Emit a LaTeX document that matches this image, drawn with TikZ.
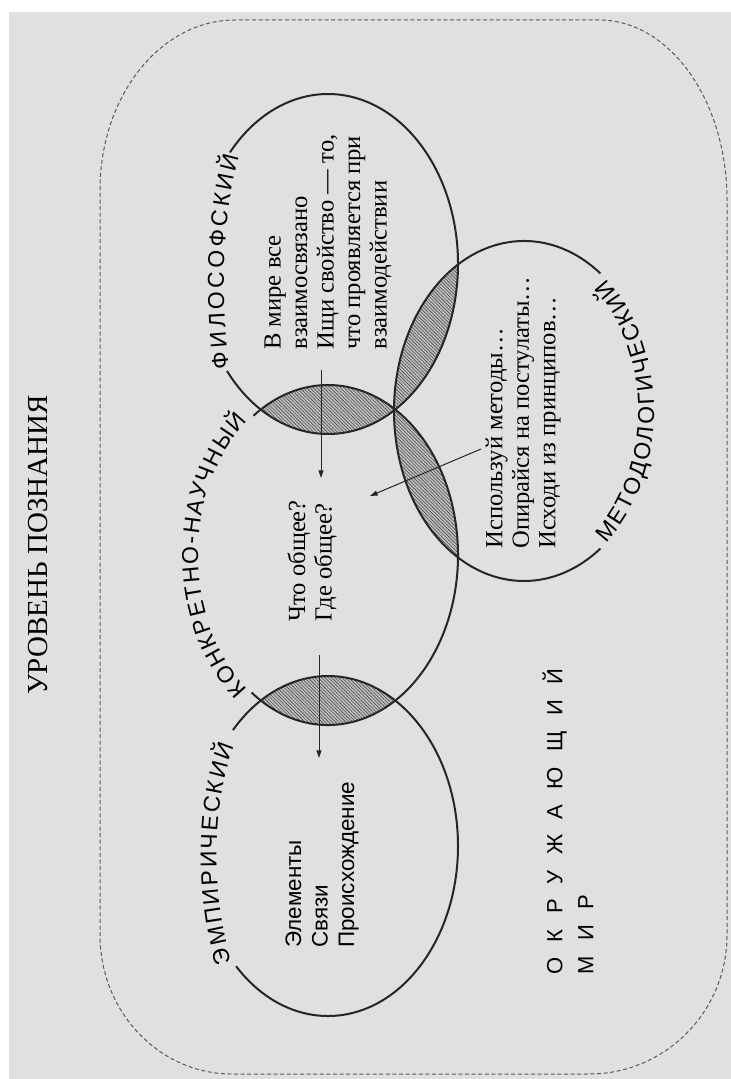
\documentclass[tikz,border=0pt]{standalone}
\usepackage{fontspec}
\setmainfont{Liberation Serif}
\setsansfont{Liberation Sans}
\usepackage{tikz}
\usetikzlibrary{arrows.meta}
\usetikzlibrary{decorations.text,patterns.meta}

\definecolor{paper}{gray}{0.88}
\newcommand\lvlfont{\sffamily\fontsize{11.5}{12}\selectfont}
\tikzset{
	ring/.style={black!85,line width=1pt},
	lens/.style={fill=black!25,postaction={pattern={Lines[angle=-45,distance=1.2pt,line width=0.3pt]},pattern color=black!70}},
	dashframe/.style={black!65,line width=0.5pt,dash pattern=on 2pt off 1.3pt},
	note/.style={rotate=90,anchor=north west,inner sep=0pt,align=left,font=\fontsize{12.3}{13.25}\selectfont},
	snote/.style={note,font=\sffamily\fontsize{11.2}{13.25}\selectfont},
	pointer/.style={black!85,line width=0.5pt,-{Triangle[length=3.8pt,width=2.5pt]}},
	arclabel/.style={decorate,decoration={text along path,text align=fit to path,text={|\lvlfont|#1}}},
}

\begin{document}
\begin{tikzpicture}[x=0.5pt,y=0.5pt]
	\useasboundingbox (0,0) rectangle (731,-1079);
	\fill[paper] (9,-12) rectangle (731,-1079);
	% dashed frame
	\draw[dashframe] (100,-190) arc[start angle=180,end angle=90,x radius=135,y radius=170] -- (599,-20)
		arc[start angle=90,end angle=0,x radius=128,y radius=180] -- (727,-935)
		arc[start angle=0,end angle=-90,x radius=138,y radius=139] -- (232,-1074)
		arc[start angle=-90,end angle=-180,x radius=132,y radius=139] -- cycle;
	% shaded overlaps
	\begin{scope}
		\clip (328,-264) ellipse[x radius=130,y radius=170];
		\path[lens] (328,-555) ellipse[x radius=130,y radius=170];
		\path[lens] (524,-411) ellipse[x radius=130,y radius=170];
	\end{scope}
	\begin{scope}
		\clip (328,-555) ellipse[x radius=130,y radius=170];
		\path[lens] (328,-846) ellipse[x radius=130,y radius=170];
		\path[lens] (524,-411) ellipse[x radius=130,y radius=170];
	\end{scope}
	% ellipses, open where the labels sit
	\draw[ring] ([shift={(328,-264)}]219:130 and 170) arc[start angle=219,end angle=499,x radius=130,y radius=170];
	\draw[ring] ([shift={(328,-555)}]234:130 and 170) arc[start angle=234,end angle=485,x radius=130,y radius=170];
	\draw[ring] ([shift={(328,-846)}]225:130 and 170) arc[start angle=225,end angle=497,x radius=130,y radius=170];
	\draw[ring] ([shift={(524,-411)}]54:130 and 170) arc[start angle=54,end angle=306,x radius=130,y radius=170];
	% labels along the ellipses
	\path[arclabel={ФИЛОСОФСКИЙ}] (229,-368) .. controls (221,-300) and (221,-220) .. (239,-156);
	\path[arclabel={КОНКРЕТНО-НАУЧНЫЙ}] ([shift={(328,-555)}]232:130 and 170) arc[start angle=232,end angle=128,x radius=130,y radius=170];
	\path[arclabel={ЭМПИРИЧЕСКИЙ}] (232,-962) .. controls (211,-900) and (211,-800) .. (235,-746);
	\path[arclabel={МЕТОДОЛОГИЧЕСКИЙ}] ([shift={(524,-411)}]-51:130 and 170) arc[start angle=-51,end angle=51,x radius=130,y radius=170];
	% texts
	\node[rotate=90,font=\fontsize{14.5}{18}\selectfont] (title) at (38,-545) {УРОВЕНЬ ПОЗНАНИЯ};
	\node[note] (philo) at (264,-350) {В мире все\\взаимосвязано\\Ищи свойство — то,\\что проявляется при\\взаимодействии};
	\node[note] (sci) at (287,-622) {Что общее?\\Где общее?};
	\node[note] (method) at (485,-549) {Используй методы…\\Опирайся на постулаты…\\Исходи из принципов…};
	\node[snote] (emp) at (285,-948) {Элементы\\Связи\\Происхождение};
	\node[snote,font=\sffamily\fontsize{11}{15.5}\selectfont\addfontfeatures{LetterSpace=70}] (world) at (542,-975) {ОКРУЖАЮЩИЙ\\МИР};
	% arrows
	\coordinate (philo-out) at (321,-370);
	\coordinate (sci-in) at (321,-478);
	\coordinate (sci-out) at (319,-655);
	\coordinate (emp-in) at (319,-758);
	\coordinate (method-out) at (481,-449);
	\coordinate (method-in) at (370,-496);
	\draw[pointer] (philo-out) -- (sci-in);
	\draw[pointer] (sci-out) -- (emp-in);
	\draw[pointer] (method-out) -- (method-in);
\end{tikzpicture}
\end{document}
